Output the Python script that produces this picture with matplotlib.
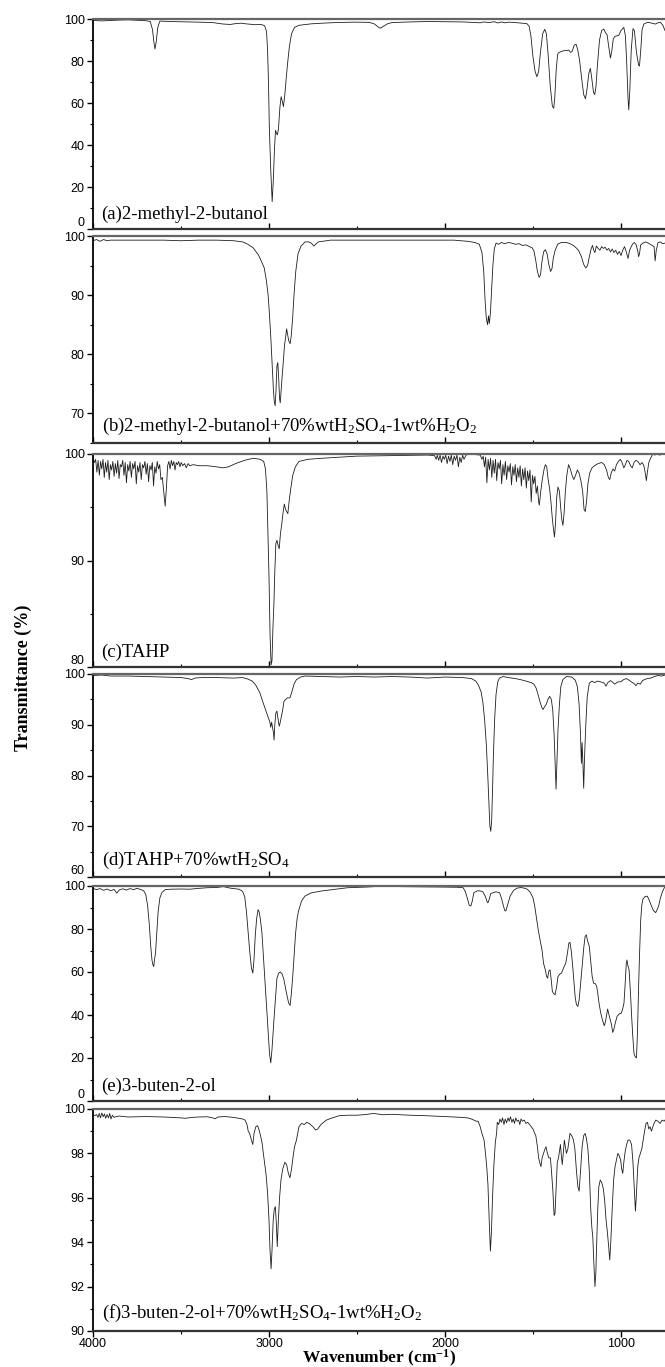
import numpy as np
import matplotlib.pyplot as plt
from matplotlib.ticker import MultipleLocator

plt.rcParams['font.family'] = ['Liberation Sans', 'DejaVu Sans']
plt.rcParams['mathtext.fontset'] = 'custom'
plt.rcParams['mathtext.rm'] = 'Liberation Serif'
plt.rcParams['mathtext.it'] = 'Liberation Serif:italic'
plt.rcParams['mathtext.bf'] = 'Liberation Serif:bold'

# (wavenumber cm-1, transmittance %)
spec_a = [(4000, 99.3), (3950, 99.1), (3900, 99.3), (3850, 99.5), (3800, 99.6), (3750, 99.4), (3700, 99.2),
          (3675, 98.8), (3662, 95), (3654, 89), (3648, 85.7), (3641, 89), (3632, 96), (3620, 99), (3560, 98.8),
          (3500, 98.7), (3400, 98.5), (3320, 98.3), (3260, 97.6), (3220, 97.4), (3190, 97.8), (3160, 98.0),
          (3120, 97.6), (3080, 97.3), (3045, 97.4), (3025, 96.8), (3014, 94), (3008, 85), (3003, 70), (2998, 48),
          (2990, 28), (2982, 13), (2975, 24), (2969, 38), (2963, 47), (2957, 45.5), (2952, 44.8), (2946, 48),
          (2938, 58), (2931, 63), (2925, 61), (2918, 58.3), (2910, 64), (2902, 72), (2893, 80), (2884, 87),
          (2872, 93), (2855, 96), (2830, 97), (2800, 97.3), (2760, 97.7), (2700, 98.0), (2620, 98.3),
          (2520, 98.5), (2430, 98.4), (2400, 97.6), (2380, 96.2), (2368, 95.6), (2350, 96.5), (2325, 97.8),
          (2300, 98.3), (2200, 98.6), (2100, 98.8), (2000, 98.7), (1900, 98.6), (1850, 98.4), (1800, 98.2),
          (1780, 98.6), (1750, 98.3), (1720, 98.7), (1700, 98.1), (1680, 98.6), (1660, 98.2), (1640, 98.5),
          (1600, 98.3), (1560, 98.0), (1535, 97.8), (1522, 96.5), (1512, 92), (1500, 82), (1488, 75),
          (1478, 72.5), (1468, 75), (1458, 84), (1445, 93), (1433, 95.1), (1424, 93), (1414, 83), (1402, 68),
          (1390, 58.5), (1382, 57.5), (1376, 63), (1368, 76), (1360, 83.2), (1353, 84), (1340, 84.5),
          (1325, 84.9), (1310, 85.0), (1297, 85.2), (1286, 84.1), (1278, 84.5), (1266, 87.5), (1255, 88),
          (1245, 85), (1235, 80), (1224, 72), (1212, 64), (1202, 62), (1194, 66), (1183, 74), (1174, 76.5),
          (1165, 71), (1156, 65), (1149, 64), (1142, 68), (1134, 78), (1122, 90), (1110, 94.5), (1098, 95.2),
          (1088, 93.5), (1079, 92.5), (1070, 87), (1060, 81.4), (1052, 85), (1044, 90.5), (1035, 91.7),
          (1024, 92), (1013, 92.2), (1000, 94.5), (984, 96), (975, 92), (968, 80), (960, 62), (956, 56.7),
          (950, 66), (942, 85), (932, 95.4), (924, 94.5), (912, 84), (900, 78), (895, 77.6), (888, 85),
          (880, 95), (870, 97.6), (855, 98.2), (842, 98.4), (825, 98.0), (804, 97.6), (790, 98.2), (776, 98.4),
          (762, 97), (750, 94.5)]

spec_b = [(4000, 99.2), (3980, 99.4), (3960, 99.1), (3940, 99.4), (3920, 99.2), (3900, 99.3), (3800, 99.3),
          (3700, 99.3), (3600, 99.3), (3500, 99.2), (3400, 99.3), (3300, 99.3), (3200, 99.2), (3150, 99.0),
          (3120, 98.6), (3090, 98.0), (3060, 96.8), (3040, 95.5), (3027, 94.6), (3015, 92.5), (3005, 90),
          (2998, 87), (2990, 83), (2982, 78), (2975, 74), (2970, 72), (2965, 71.3), (2960, 74), (2955, 78),
          (2950, 78.6), (2945, 76), (2940, 72.5), (2936, 71.8), (2931, 74), (2926, 76), (2918, 79),
          (2912, 81.5), (2905, 83), (2900, 84.3), (2895, 83.5), (2888, 82.3), (2880, 81.8), (2874, 83),
          (2866, 86), (2858, 90), (2848, 94), (2835, 97), (2818, 98.3), (2795, 99.0), (2775, 99.0),
          (2760, 98.8), (2745, 98.3), (2735, 98.6), (2720, 99.0), (2650, 99.3), (2500, 99.3), (2300, 99.3),
          (2100, 99.3), (1950, 99.3), (1870, 99.1), (1830, 98.9), (1805, 98.6), (1790, 97.2), (1780, 94),
          (1772, 89), (1765, 86), (1758, 85), (1753, 86.5), (1748, 85.2), (1742, 87), (1735, 91), (1728, 95),
          (1720, 97.8), (1710, 98.8), (1695, 98.6), (1680, 98.9), (1660, 98.7), (1640, 98.9), (1620, 98.8),
          (1600, 98.6), (1580, 98.7), (1560, 98.4), (1540, 98.5), (1520, 98.2), (1505, 98.0), (1495, 97.5),
          (1485, 96), (1475, 94), (1465, 93), (1457, 93.5), (1450, 95.5), (1440, 97.3), (1430, 97.7),
          (1420, 97), (1410, 95.2), (1400, 94), (1392, 94.5), (1385, 96.2), (1375, 97.5), (1360, 98.6),
          (1340, 98.9), (1310, 98.9), (1290, 98.7), (1270, 98.4), (1255, 98), (1240, 97.5), (1225, 96.5),
          (1212, 95.2), (1200, 94.6), (1190, 95), (1180, 96.5), (1170, 97.8), (1162, 98.4), (1155, 97.6),
          (1148, 97.2), (1140, 98.3), (1130, 97.9), (1120, 97.6), (1110, 98.2), (1100, 97.9), (1090, 98.1),
          (1080, 97.6), (1070, 97.9), (1060, 97.3), (1050, 97.8), (1040, 97.2), (1030, 97.6), (1020, 96.9),
          (1010, 97.4), (1000, 96.7), (990, 97.6), (980, 98.2), (970, 97.3), (960, 96.2), (952, 97.5),
          (945, 98.0), (935, 98.6), (925, 98.9), (915, 98.6), (905, 97.5), (900, 96.5), (895, 97.0),
          (888, 98.5), (875, 98.8), (860, 99.0), (845, 98.8), (812, 98.2), (806, 95.8), (800, 97.5),
          (790, 98.9), (775, 99.0), (765, 98.7), (750, 98.8)]

spec_c = [(4000, 99.6), (3992, 99.2), (3985, 99.5), (3978, 98.3), (3971, 99.4), (3964, 98.0), (3957, 99.3),
          (3950, 98.6), (3943, 99.5), (3936, 97.8), (3929, 99.2), (3922, 98.3), (3915, 99.4), (3908, 97.6),
          (3901, 99.0), (3894, 98.5), (3887, 99.3), (3880, 97.9), (3873, 99.1), (3866, 98.2), (3859, 99.4),
          (3852, 97.7), (3845, 99.0), (3838, 98.8), (3831, 99.4), (3824, 98.0), (3817, 99.2), (3810, 97.3),
          (3803, 99.0), (3796, 98.4), (3789, 99.3), (3782, 97.8), (3775, 99.1), (3768, 98.6), (3761, 99.3),
          (3754, 97.2), (3747, 98.9), (3740, 98.3), (3733, 99.2), (3726, 97.6), (3719, 99.0), (3712, 98.7),
          (3705, 99.3), (3698, 98.1), (3691, 99.1), (3684, 97.4), (3677, 98.9), (3670, 98.5), (3663, 99.2),
          (3656, 97.0), (3649, 98.8), (3642, 98.2), (3635, 99.3), (3628, 98.6), (3621, 99.0), (3614, 97.6),
          (3606, 97.8), (3598, 96.5), (3590, 95.1), (3583, 96.8), (3576, 98.9), (3569, 99.3), (3562, 98.6),
          (3555, 99.4), (3548, 98.9), (3541, 99.3), (3534, 98.5), (3527, 99.2), (3520, 99.0), (3513, 99.3),
          (3506, 98.8), (3499, 99.2), (3490, 98.9), (3480, 99.1), (3470, 98.7), (3460, 99.1), (3450, 98.9),
          (3430, 99.0), (3400, 98.9), (3350, 98.9), (3300, 98.8), (3260, 98.7), (3230, 98.8), (3190, 99.1),
          (3140, 99.4), (3090, 99.6), (3050, 99.5), (3030, 99.3), (3020, 98.6), (3012, 96.5), (3005, 92),
          (3000, 88.5), (2994, 83), (2988, 80.2), (2983, 80.6), (2978, 83.5), (2972, 86), (2967, 89),
          (2961, 91.6), (2955, 91.9), (2948, 91.4), (2942, 91.1), (2935, 92.5), (2927, 93.5), (2920, 94.5),
          (2913, 95.3), (2906, 94.8), (2900, 94.6), (2893, 94.4), (2886, 95.5), (2876, 96.8), (2865, 98),
          (2850, 98.8), (2830, 99.3), (2780, 99.5), (2700, 99.6), (2600, 99.7), (2500, 99.8), (2300, 99.85),
          (2100, 99.9), (2060, 99.85), (2050, 99.5), (2044, 99.9), (2036, 99.4), (2028, 99.9), (2020, 99.2),
          (2012, 99.8), (2004, 99.5), (1996, 99.9), (1988, 99.1), (1980, 99.8), (1972, 99.3), (1964, 99.9),
          (1956, 99.0), (1948, 99.8), (1940, 99.4), (1932, 99.9), (1924, 98.8), (1916, 99.7), (1908, 99.2),
          (1900, 99.9), (1892, 99.5), (1880, 99.9), (1860, 100.0), (1830, 99.95), (1800, 99.9), (1790, 99.5),
          (1783, 99.8), (1776, 98.8), (1769, 99.7), (1762, 97.3), (1755, 99.5), (1748, 98.5), (1741, 99.6),
          (1734, 97.8), (1727, 99.4), (1720, 98.2), (1713, 99.5), (1706, 97.5), (1699, 99.2), (1692, 98.6),
          (1685, 99.4), (1678, 97.2), (1671, 99.0), (1664, 98.0), (1657, 99.3), (1650, 97.6), (1643, 98.9),
          (1636, 98.3), (1629, 99.1), (1622, 97.1), (1615, 98.8), (1608, 98.0), (1601, 99.0), (1594, 97.4),
          (1587, 98.7), (1580, 97.8), (1573, 98.9), (1566, 97.0), (1559, 98.6), (1552, 97.6), (1545, 98.7),
          (1538, 96.8), (1531, 98.4), (1524, 97.5), (1517, 98.5), (1510, 95.5), (1503, 98.0), (1496, 97.2),
          (1489, 97.9), (1482, 96.3), (1475, 97.0), (1468, 95.5), (1464, 95.2), (1456, 96.5), (1447, 97.6),
          (1438, 98.5), (1430, 99.0), (1422, 98.8), (1414, 97.6), (1406, 96.8), (1398, 95.5), (1390, 93.9),
          (1384, 93.0), (1378, 92.2), (1372, 93.5), (1365, 96), (1358, 96.9), (1350, 96.5), (1343, 95.0),
          (1336, 93.8), (1330, 93.3), (1323, 94.5), (1316, 96.5), (1308, 98.0), (1298, 99.0), (1288, 98.6),
          (1278, 98.0), (1268, 97.6), (1258, 98.0), (1248, 98.5), (1238, 98.2), (1228, 97.5), (1218, 96.5),
          (1210, 94.8), (1203, 94.6), (1196, 95.5), (1188, 97.2), (1178, 98.2), (1165, 98.7), (1150, 98.9),
          (1130, 99.1), (1110, 99.2), (1095, 99.0), (1082, 98.5), (1072, 97.8), (1064, 97.6), (1056, 98.2),
          (1046, 98.6), (1036, 98.4), (1026, 99.0), (1015, 99.3), (1004, 99.5), (994, 99.2), (984, 98.7),
          (975, 99.0), (966, 99.4), (956, 99.3), (946, 98.9), (936, 98.7), (926, 99.2), (916, 99.4),
          (904, 99.3), (892, 99.0), (880, 99.2), (870, 98.9), (862, 98.2), (856, 97.5), (850, 98.3),
          (842, 99.2), (832, 99.6), (820, 100.0), (808, 99.9), (795, 100.0), (780, 99.9), (765, 100.0),
          (750, 100.0)]

spec_d = [(4000, 99.7), (3950, 99.8), (3900, 99.6), (3800, 99.6), (3700, 99.5), (3600, 99.4), (3500, 99.3),
          (3460, 99.1), (3440, 98.9), (3420, 99.2), (3380, 99.3), (3300, 99.3), (3200, 99.2), (3150, 99.3),
          (3120, 99.0), (3095, 98.6), (3075, 97.8), (3052, 96.3), (3035, 94.5), (3020, 93.0), (3005, 91.5),
          (2995, 90.5), (2990, 89.5), (2985, 90.5), (2980, 89.5), (2975, 88.5), (2971, 87), (2967, 90),
          (2961, 92.3), (2955, 92.7), (2948, 91), (2942, 89.7), (2936, 90.5), (2930, 91.6), (2922, 93),
          (2915, 94.6), (2905, 95), (2895, 95.3), (2881, 95.3), (2870, 96.5), (2858, 98), (2844, 98.9),
          (2820, 99.4), (2796, 99.6), (2700, 99.5), (2600, 99.4), (2500, 99.5), (2400, 99.4), (2300, 99.5),
          (2200, 99.4), (2100, 99.2), (2000, 99.4), (1900, 99.3), (1850, 99.1), (1825, 98.6), (1810, 97.8),
          (1795, 96.5), (1785, 94.5), (1775, 91), (1765, 86), (1757, 80), (1750, 74), (1745, 70), (1740, 69),
          (1735, 71), (1730, 77), (1725, 84), (1718, 91), (1710, 96), (1700, 98.5), (1690, 99.2), (1670, 99.5),
          (1640, 99.3), (1600, 99.1), (1560, 98.8), (1530, 98.5), (1510, 98.3), (1495, 98.0), (1482, 97.2),
          (1470, 95.8), (1460, 94.5), (1450, 93.4), (1443, 93.0), (1435, 93.5), (1425, 94.0), (1415, 95.0),
          (1405, 95.6), (1396, 95.0), (1388, 93.0), (1380, 88), (1374, 82), (1369, 77.3), (1364, 82.4),
          (1358, 89), (1350, 94), (1342, 97.5), (1330, 98.9), (1310, 99.5), (1280, 99.4), (1260, 98.8),
          (1248, 97.5), (1238, 94), (1230, 88), (1225, 82.4), (1221, 86.5), (1216, 82.0), (1212, 77.5),
          (1207, 83.7), (1200, 90), (1192, 95.5), (1180, 98.2), (1165, 98.6), (1150, 98.3), (1134, 98.6),
          (1110, 98.4), (1095, 98.2), (1085, 97.6), (1075, 98.3), (1060, 98.7), (1045, 98.3), (1036, 98.0),
          (1020, 98.4), (1000, 98.5), (985, 98.9), (970, 99.1), (955, 98.8), (939, 98.4), (925, 98.1),
          (915, 97.7), (905, 98.2), (890, 98.0), (878, 98.7), (866, 98.9), (850, 99.1), (830, 99.2),
          (810, 99.5), (790, 99.7), (770, 99.6), (750, 99.8)]

spec_e = [(4000, 98.9), (3980, 98.3), (3960, 98.8), (3940, 98.0), (3920, 98.6), (3900, 97.8), (3880, 98.4),
          (3865, 96.7), (3850, 98.2), (3830, 98.7), (3810, 98.1), (3790, 98.8), (3770, 98.3), (3750, 98.9),
          (3730, 98.4), (3712, 97.8), (3700, 96), (3690, 91), (3680, 82), (3672, 72), (3665, 65.6),
          (3660, 63.5), (3655, 62.5), (3650, 66), (3645, 68.7), (3638, 78), (3630, 88), (3620, 94.5),
          (3608, 97), (3590, 98.3), (3560, 98.5), (3500, 98.6), (3450, 98.5), (3400, 98.9), (3350, 99.2),
          (3300, 99.3), (3258, 99.7), (3220, 99.0), (3190, 98.7), (3170, 98.5), (3150, 97.5), (3138, 95),
          (3128, 88), (3118, 78), (3110, 70), (3100, 62), (3092, 59.5), (3085, 66), (3078, 77), (3070, 85),
          (3062, 89), (3056, 88), (3048, 84), (3040, 78), (3030, 65), (3022, 55), (3015, 45.6), (3005, 32),
          (2997, 22), (2990, 17.7), (2983, 24), (2976, 33), (2970, 40), (2963, 48), (2955, 57), (2945, 59.5),
          (2935, 60), (2925, 59), (2915, 56.4), (2905, 52), (2895, 48), (2888, 45.5), (2880, 44.5),
          (2873, 50), (2865, 58), (2857, 68), (2849, 78), (2840, 85), (2832, 88.5), (2815, 93), (2796, 95.3),
          (2760, 96.8), (2700, 97.7), (2650, 98.2), (2553, 99.2), (2450, 99.5), (2358, 99.9), (2250, 99.7),
          (2115, 99.6), (2000, 99.5), (1930, 99.4), (1897, 99.2), (1885, 97.5), (1872, 94), (1862, 91),
          (1853, 90.7), (1845, 93), (1836, 96.9), (1815, 97.8), (1800, 97.7), (1785, 97.3), (1770, 95),
          (1760, 92.5), (1756, 92.2), (1748, 94), (1740, 96.5), (1727, 96.9), (1710, 97.3), (1690, 96.9),
          (1678, 94), (1668, 90.7), (1660, 88.5), (1654, 88.4), (1645, 91), (1630, 95.3), (1610, 98),
          (1590, 99.0), (1570, 99.3), (1550, 99.0), (1532, 98.5), (1515, 97), (1500, 94.5), (1490, 90.5),
          (1480, 85), (1471, 80), (1460, 75), (1449, 70.3), (1440, 64), (1430, 61), (1423, 58), (1417, 57.1),
          (1410, 60.5), (1403, 61), (1396, 56), (1390, 51), (1385, 50.2), (1375, 49.4), (1366, 53),
          (1358, 57.9), (1348, 59), (1338, 59.5), (1326, 62), (1314, 64.1), (1304, 69), (1296, 73.5),
          (1290, 73.8), (1283, 70), (1276, 64.1), (1268, 56), (1260, 48), (1253, 44.8), (1245, 44),
          (1238, 47), (1230, 54), (1221, 62.5), (1212, 71), (1204, 76.5), (1197, 77.3), (1190, 74.5),
          (1180, 71.9), (1172, 65), (1164, 58), (1156, 54.8), (1145, 54.5), (1138, 53.3), (1132, 50),
          (1124, 45), (1115, 40.9), (1105, 37.5), (1095, 35), (1088, 37), (1080, 41), (1076, 42.8),
          (1068, 40), (1060, 37.5), (1054, 35.5), (1047, 31.9), (1040, 33.5), (1032, 36.5), (1022, 39.4),
          (1010, 40.5), (998, 40.9), (990, 43), (983, 45.6), (976, 55), (970, 64), (966, 65.6), (961, 63),
          (954, 61), (946, 50), (940, 40), (933, 30), (926, 22), (920, 20.7), (912, 20), (906, 33),
          (900, 53.3), (894, 70), (888, 84.2), (882, 91), (876, 93.8), (865, 95.0), (851, 95.3), (840, 93.5),
          (827, 90.7), (815, 88.5), (803, 87.6), (792, 89.5), (785, 91), (778, 93.8), (766, 97), (754, 99.2),
          (750, 99.3)]

spec_f = [(4000, 99.73), (3990, 99.7), (3980, 99.75), (3972, 99.62), (3965, 99.8), (3958, 99.6),
          (3950, 99.82), (3942, 99.65), (3935, 99.78), (3928, 99.58), (3920, 99.75), (3912, 99.6),
          (3905, 99.8), (3898, 99.55), (3890, 99.72), (3880, 99.62), (3870, 99.66), (3850, 99.68),
          (3800, 99.64), (3700, 99.66), (3600, 99.64), (3500, 99.6), (3476, 99.58), (3440, 99.62),
          (3400, 99.64), (3350, 99.65), (3320, 99.6), (3306, 99.56), (3290, 99.64), (3250, 99.66),
          (3200, 99.62), (3150, 99.55), (3136, 99.5), (3125, 99.3), (3118, 99.0), (3110, 98.9), (3100, 98.6),
          (3092, 98.4), (3085, 98.9), (3075, 99.2), (3065, 99.25), (3058, 99.1), (3048, 98.8), (3040, 98.5),
          (3032, 98), (3025, 97.6), (3016, 97.0), (3008, 96.2), (3000, 95.0), (2994, 93.6), (2988, 92.8),
          (2982, 93.8), (2976, 95), (2970, 95.5), (2964, 95.6), (2958, 94.8), (2953, 93.8), (2948, 94.8),
          (2940, 96.0), (2932, 96.8), (2922, 97.3), (2910, 97.6), (2900, 97.5), (2890, 97.1), (2881, 96.9),
          (2872, 97.3), (2864, 97.8), (2855, 98.3), (2844, 98.6), (2830, 99.2), (2815, 99.35), (2800, 99.3),
          (2785, 99.4), (2772, 99.35), (2750, 99.2), (2735, 99.05), (2723, 99.1), (2705, 99.3), (2690, 99.4),
          (2674, 99.5), (2640, 99.6), (2600, 99.7), (2550, 99.72), (2500, 99.72), (2450, 99.75),
          (2407, 99.8), (2350, 99.74), (2300, 99.76), (2200, 99.72), (2115, 99.7), (2000, 99.66),
          (1950, 99.64), (1900, 99.62), (1872, 99.6), (1850, 99.55), (1836, 99.5), (1822, 99.45),
          (1812, 99.45), (1800, 99.2), (1790, 98.9), (1778, 98.6), (1770, 98), (1762, 97.3), (1756, 96.6),
          (1748, 94.8), (1742, 93.6), (1736, 94.5), (1730, 96), (1722, 97.5), (1714, 98.5), (1707, 98.9),
          (1703, 99.4), (1695, 99.3), (1688, 99.55), (1680, 99.4), (1673, 99.6), (1665, 99.3), (1658, 99.55),
          (1650, 99.38), (1642, 99.6), (1635, 99.45), (1628, 99.65), (1620, 99.4), (1612, 99.55),
          (1605, 99.35), (1598, 99.6), (1590, 99.45), (1582, 99.5), (1575, 99.3), (1568, 99.55),
          (1560, 99.45), (1550, 99.5), (1540, 99.35), (1530, 99.4), (1520, 99.3), (1510, 99.2), (1500, 99.1),
          (1490, 98.9), (1484, 98.8), (1475, 98.3), (1468, 97.8), (1462, 97.6), (1455, 97.4), (1448, 97.8),
          (1440, 98.0), (1432, 98.2), (1426, 98.3), (1418, 98.0), (1410, 97.8), (1401, 97.8), (1395, 97.2),
          (1387, 96.3), (1380, 95.2), (1375, 95.3), (1368, 96.5), (1362, 97.6), (1355, 97.8), (1348, 98.2),
          (1344, 98.4), (1338, 97.8), (1334, 97.5), (1328, 98.0), (1322, 98.6), (1316, 98.3), (1310, 98.0),
          (1302, 98.2), (1295, 98.6), (1290, 98.9), (1280, 98.8), (1270, 98.6), (1262, 98.2), (1253, 97.2),
          (1245, 96.5), (1238, 96.3), (1230, 97.2), (1221, 98.3), (1212, 98.8), (1204, 98.9), (1197, 98.7),
          (1188, 98.2), (1180, 97.2), (1172, 95.5), (1166, 94.7), (1160, 94.2), (1154, 93.0), (1148, 92.0),
          (1143, 92.6), (1138, 94.0), (1132, 95.5), (1126, 96.5), (1118, 96.8), (1110, 96.7), (1100, 96.4),
          (1092, 95.8), (1085, 95.0), (1078, 94.5), (1070, 93.8), (1064, 93.2), (1058, 94.0), (1050, 95.5),
          (1042, 96.8), (1034, 97.4), (1026, 97.7), (1018, 98.0), (1010, 97.9), (1002, 97.7), (996, 97.3),
          (990, 97.1), (984, 97.6), (976, 98.1), (968, 98.4), (960, 98.6), (950, 98.6), (940, 98.4),
          (932, 97.6), (925, 96.5), (918, 95.4), (912, 96.2), (905, 97.4), (898, 97.8), (890, 98.0),
          (882, 98.2), (874, 98.6), (866, 99.0), (858, 99.35), (850, 99.4), (842, 99.1), (835, 99.2),
          (827, 99.0), (815, 99.3), (803, 99.5), (790, 99.45), (778, 99.35), (766, 99.5), (755, 99.45),
          (750, 99.5)]

labels = ['(a)2-methyl-2-butanol',
          '(b)2-methyl-2-butanol+70%wtH$_2$SO$_4$-1wt%H$_2$O$_2$',
          '(c)TAHP',
          '(d)TAHP+70%wtH$_2$SO$_4$',
          '(e)3-buten-2-ol',
          '(f)3-buten-2-ol+70%wtH$_2$SO$_4$-1wt%H$_2$O$_2$']
spectra = [spec_a, spec_b, spec_c, spec_d, spec_e, spec_f]
ylims = [(0, 100), (65, 100), (80, 100), (60, 100), (0, 100), (90, 100)]
ymajor = [20, 10, 10, 10, 20, 2]
yminor = [10, 5, 5, 5, 10, 1]

# panel top/bottom in pixels of the 665 x 1367 picture
boxes = [(19, 229), (236, 443), (454, 667), (674, 877), (886, 1101), (1109, 1331)]
W, H = 665, 1367
x0 = 93

fig = plt.figure(figsize=(W / 100, H / 100), dpi=100)
for i in range(6):
    top, bot = boxes[i]
    ax = fig.add_axes([x0 / W, 1 - bot / H, (W - x0) / W, (bot - top) / H])
    wn, t = np.array(spectra[i]).T
    ax.plot(wn, t, color='#1e1e1e', lw=0.6)
    ax.set_xlim(4000, 750)
    ax.set_ylim(*ylims[i])
    ax.yaxis.set_major_locator(MultipleLocator(ymajor[i]))
    ax.yaxis.set_minor_locator(MultipleLocator(yminor[i]))
    ax.xaxis.set_major_locator(MultipleLocator(1000))
    ax.xaxis.set_minor_locator(MultipleLocator(500))
    ax.spines['right'].set_visible(False)
    ax.spines['top'].set_color('#666666')
    ax.spines['top'].set_linewidth(1.6)
    ax.spines['bottom'].set_color('#333333')
    ax.spines['bottom'].set_linewidth(1.6)
    ax.spines['left'].set_linewidth(1.3)
    ax.tick_params(axis='y', which='major', direction='out', length=4, width=1, pad=2, labelsize=9)
    ax.tick_params(axis='y', which='minor', direction='out', length=2.5, width=0.8)
    if i < 5:
        ax.tick_params(axis='x', which='both', direction='in', labelbottom=False)
        ax.tick_params(axis='x', which='major', length=4, width=1)
        ax.tick_params(axis='x', which='minor', length=2.5, width=0.8)
        # lowest label sits just above the axis line, like in the original
        for tk, loc in zip(ax.yaxis.get_major_ticks(), ax.yaxis.get_majorticklocs()):
            if np.isclose(loc, ylims[i][0]):
                tk.label1.set_verticalalignment('bottom')
    else:
        ax.tick_params(axis='x', which='major', direction='out', length=4, width=1, pad=1, labelsize=9)
        ax.tick_params(axis='x', which='minor', direction='out', length=2.5, width=0.8)
    ax.text(0.015, 0.03, labels[i], transform=ax.transAxes, fontfamily='Liberation Serif',
            fontsize=13.5, ha='left', va='bottom')

fig.text((x0 + W) / 2 / W, 1 - 1358 / H, r'Wavenumber (cm$^{\mathbf{-1}}$)', fontfamily='Liberation Serif',
         fontweight='bold', fontsize=12.5, ha='center', va='center')
fig.text(23 / W, 1 - 678 / H, 'Transmittance (%)', rotation=90, fontfamily='Liberation Serif',
         fontweight='bold', fontsize=13, ha='center', va='center')

fig.savefig('out.png', dpi=100)
